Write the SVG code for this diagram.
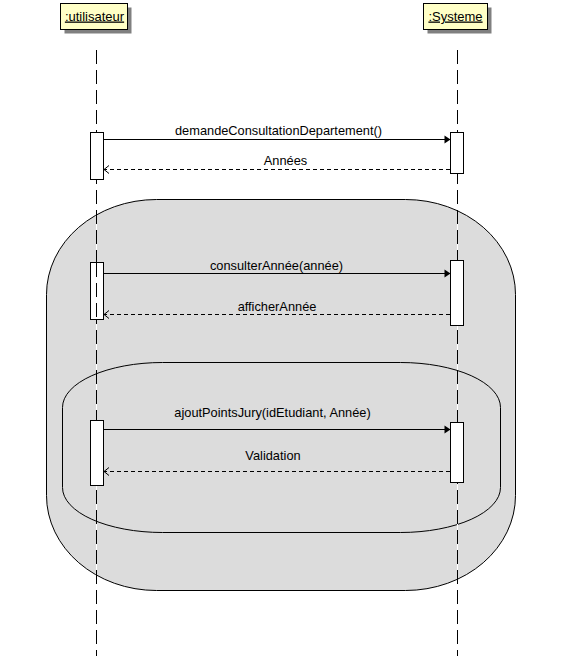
<svg xmlns="http://www.w3.org/2000/svg" width="568" height="656" viewBox="0 0 568 656">
<style>
  .hdr{fill:#ffffc6;stroke:#000;stroke-width:1}
  .shd{fill:#808080}
  .htxt{font-family:"Liberation Sans",Arial,sans-serif;font-size:13px;fill:#000;text-decoration:underline;text-anchor:middle}
  .lbl{font-family:"Liberation Sans",Arial,sans-serif;font-size:12.8px;fill:#000;text-anchor:middle}
  .llbg{stroke:#fff;stroke-width:1;fill:none}
  .ll{stroke:#000;stroke-width:1;stroke-dasharray:14,6;fill:none}
  .act{fill:#fff;stroke:#000;stroke-width:1}
  .msg{stroke:#000;stroke-width:1;fill:none}
  .ret{stroke:#000;stroke-width:1;stroke-dasharray:4,3;fill:none}
  .region{fill:#dcdcdc;stroke:#000;stroke-width:1}
  .inner{fill:none;stroke:#000;stroke-width:1}
</style>
<defs>
  <marker id="filled" markerWidth="8" markerHeight="10" refX="7" refY="5" orient="auto" markerUnits="userSpaceOnUse">
    <path d="M1,1 L7,5 L1,9 Z" fill="#000"/>
  </marker>
  <marker id="open" markerWidth="8" markerHeight="10" refX="6" refY="5" orient="auto" markerUnits="userSpaceOnUse">
    <path d="M1,1 L6,5 L1,9" fill="none" stroke="#000" stroke-width="1"/>
  </marker>
</defs>
<g id="fragments">
  <rect id="outer-region" class="region" x="46.5" y="199.5" width="469" height="391" rx="110" ry="95"/>
  <rect id="inner-region" class="inner" x="62.5" y="362.5" width="438" height="170" rx="100" ry="45"/>
</g>
<g id="utilisateur">
  <rect class="shd" x="64.5" y="7.5" width="67" height="26"/>
  <rect class="hdr" x="60.5" y="3.5" width="67" height="26"/>
  <text class="htxt" x="94.5" y="20.5">:utilisateur</text>
  <line class="llbg" x1="96.5" y1="50" x2="96.5" y2="656"/>
  <line class="ll" x1="96.5" y1="50" x2="96.5" y2="656"/>
  <rect class="act" x="90.5" y="132.5" width="13" height="47"/>
  <rect class="act" x="90.5" y="262.5" width="13" height="57"/>
  <line class="ll" x1="96.5" y1="263" x2="96.5" y2="319"/>
  <rect class="act" x="90.5" y="420.5" width="13" height="65"/>
</g>
<g id="systeme">
  <rect class="shd" x="427.5" y="7.5" width="64" height="26"/>
  <rect class="hdr" x="423.5" y="3.5" width="64" height="26"/>
  <text class="htxt" x="455.5" y="20.5">:Systeme</text>
  <line class="llbg" x1="457.5" y1="50" x2="457.5" y2="656"/>
  <line class="ll" x1="457.5" y1="50" x2="457.5" y2="656"/>
  <rect class="act" x="450.5" y="132.5" width="13" height="41"/>
  <rect class="act" x="450.5" y="260.5" width="13" height="65"/>
  <rect class="act" x="450.5" y="422.5" width="13" height="60"/>
</g>
<g id="connectors">
  <line class="msg" x1="103.5" y1="139.5" x2="450.5" y2="139.5" marker-end="url(#filled)"/>
  <line class="ret" x1="450" y1="169.5" x2="104" y2="169.5" marker-end="url(#open)"/>
  <line class="msg" x1="103.5" y1="273.5" x2="450.5" y2="273.5" marker-end="url(#filled)"/>
  <line class="ret" x1="450" y1="314.5" x2="104" y2="314.5" marker-end="url(#open)"/>
  <line class="msg" x1="103.5" y1="429.5" x2="450.5" y2="429.5" marker-end="url(#filled)"/>
  <line class="ret" x1="450" y1="471.5" x2="104" y2="471.5" marker-end="url(#open)"/>
  <text class="lbl" x="278.5" y="134.5">demandeConsultationDepartement()</text>
  <text class="lbl" x="285.5" y="165">Années</text>
  <text class="lbl" x="276.5" y="270">consulterAnnée(année)</text>
  <text class="lbl" x="277" y="311">afficherAnnée</text>
  <text class="lbl" x="272.5" y="416.5">ajoutPointsJury(idEtudiant, Année)</text>
  <text class="lbl" x="273" y="459.5">Validation</text>
</g>
</svg>
